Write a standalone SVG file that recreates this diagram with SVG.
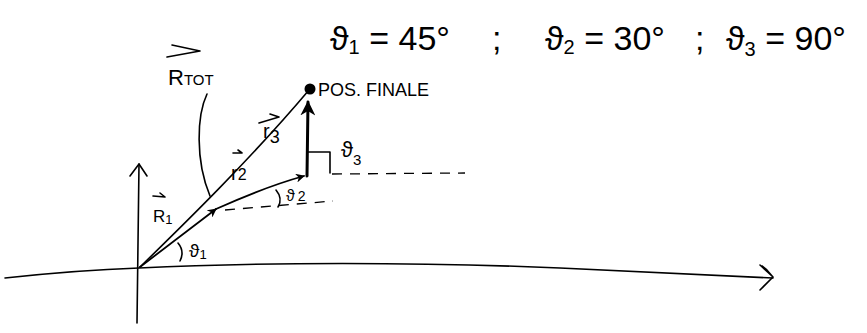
<svg xmlns="http://www.w3.org/2000/svg" width="867" height="333" viewBox="0 0 867 333">
<style>
.ln{fill:none;stroke:#000;stroke-width:1.6;stroke-linecap:round;stroke-linejoin:round}
.th{fill:none;stroke:#000;stroke-width:2.4;stroke-linecap:round}
.ds{fill:none;stroke:#000;stroke-width:1.3;stroke-dasharray:10 8}
.t{font-family:"Liberation Sans","DejaVu Sans",sans-serif;fill:#000}
</style>
<defs>
<marker id="ah" viewBox="0 0 10 10" refX="9" refY="5" markerWidth="5" markerHeight="5" orient="auto-start-reverse" markerUnits="strokeWidth">
<path d="M0,0 L10,5 L0,10 L3,5 Z" fill="#000"/>
</marker>
</defs>
<rect width="867" height="333" fill="#fff"/>
<g id="axes">
<path class="ln" d="M5,278 C60,272 110,269 139,268 C260,262 420,262 560,268 C650,272 720,276 773,278"/>
<path class="ln" d="M760,265 L773,277 L760,290 M762,266 C768,270 770,274 773,277"/>
<path class="ln" d="M137,323 L139,164"/>
<path class="ln" d="M130,176 L139,164 L147,176"/>
</g>
<g id="vectors">
<path class="ln" d="M140,267 C180,228 250,160 309,90"/>
<path class="ln" d="M140,267 L216,209" marker-end="url(#ah)" style="stroke-width:1.8"/>
<path class="ln" d="M216,209 C245,196 275,184 304,176" marker-end="url(#ah)" style="stroke-width:1.8"/>
<path class="th" d="M307,176 L308,102" marker-end="url(#ah)" style="stroke-width:3"/>
<circle cx="310" cy="89" r="5.5" fill="#000"/>
<path class="ln" d="M207,94 C197,115 195,160 210,196"/>
</g>
<g id="angles">
<path class="ds" d="M225,210 L333,201"/>
<path class="ds" d="M332,174 L465,173"/>
<path class="ln" d="M308,152 L330,152 L330,173"/>
<path class="ln" d="M276,190 C281,196 281,202 278,207"/>
<path class="ln" d="M178,243 C183,249 183,255 180,261"/>
<path class="ln" d="M153,196 L165,197 M160,193 L165,197"/>
<path class="ln" d="M167,57 L200,51 L172,45"/>
<path class="ln" d="M259,123 L279,117 L270,114"/>
<path class="ln" d="M233,153 L242,153 M238,150 L242,153"/>
</g>
<g id="labels">
<text class="t" x="330" y="50" font-size="34">ϑ<tspan font-size="20" dy="4">1</tspan><tspan dy="-4"> = 45°</tspan></text>
<text class="t" x="492" y="50" font-size="34">;</text>
<text class="t" x="545" y="50" font-size="34">ϑ<tspan font-size="20" dy="4">2</tspan><tspan dy="-4"> = 30°</tspan></text>
<text class="t" x="695" y="50" font-size="34">;</text>
<text class="t" x="726" y="50" font-size="34">ϑ<tspan font-size="20" dy="6">3</tspan><tspan dy="-6"> = 90°</tspan></text>
<text class="t" x="318" y="96" font-size="18">POS. FINALE</text>
<text class="t" x="168" y="85" font-size="22">R<tspan font-size="15">TOT</tspan></text>
<text class="t" x="263" y="138" font-size="20">r<tspan font-size="18" dy="5">3</tspan></text>
<text class="t" x="231" y="180" font-size="20">r<tspan font-size="16" dy="0">2</tspan></text>
<text class="t" x="153" y="222" font-size="17">R<tspan font-size="13" dy="2">1</tspan></text>
<text class="t" x="189" y="257" font-size="19">ϑ<tspan font-size="13" dy="2">1</tspan></text>
<text class="t" x="286" y="201" font-size="16">ϑ<tspan font-size="14" dx="3">2</tspan></text>
<text class="t" x="341" y="157" font-size="22">ϑ<tspan font-size="15" dy="8">3</tspan></text>
</g>
</svg>
